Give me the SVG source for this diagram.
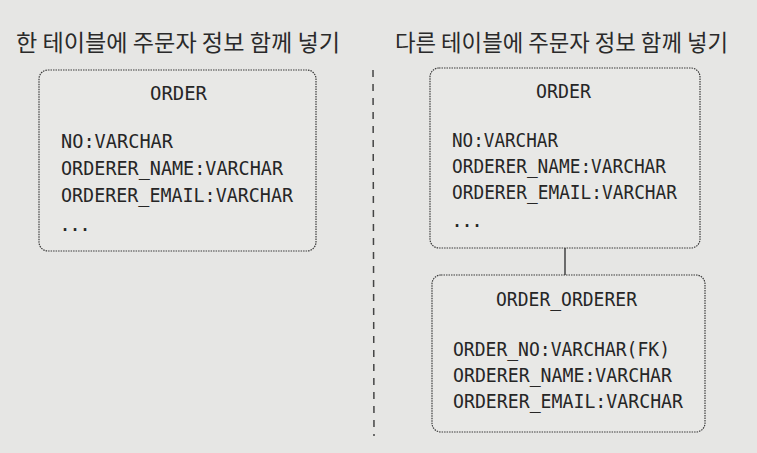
<svg xmlns="http://www.w3.org/2000/svg" width="757" height="453" viewBox="0 0 757 453">
<style>
.title{font-family:"Noto Sans CJK KR","Noto Sans",sans-serif;font-size:23px;fill:#2a2a2a}
.box{fill:#e8e8e6;stroke:#3a3a3a;stroke-width:1.2;stroke-dasharray:1.5 1}
.t{font-family:"DejaVu Sans Mono","Liberation Mono",monospace;font-size:20px;fill:#262626}
.h{text-anchor:middle}
.div{stroke:#444;stroke-width:1.5;stroke-dasharray:7 7}
.edge{stroke:#2a2a2a;stroke-width:1.3;fill:none}
</style>
<rect width="757" height="453" fill="#e6e6e4"/>
<text class="title" x="16" y="51" textLength="324" lengthAdjust="spacingAndGlyphs">한 테이블에 주문자 정보 함께 넣기</text>
<text class="title" x="395" y="51" textLength="333" lengthAdjust="spacingAndGlyphs">다른 테이블에 주문자 정보 함께 넣기</text>
<line class="div" x1="373" y1="70" x2="374" y2="436"/>
<g id="order-left">
<rect class="box" x="39" y="70" width="277" height="181" rx="9"/>
<text class="t" x="150" y="100" textLength="57" lengthAdjust="spacingAndGlyphs">ORDER</text>
<text class="t" x="61" y="148" textLength="112" lengthAdjust="spacingAndGlyphs">NO:VARCHAR</text>
<text class="t" x="61" y="175" textLength="222" lengthAdjust="spacingAndGlyphs">ORDERER_NAME:VARCHAR</text>
<text class="t" x="61" y="202" textLength="232" lengthAdjust="spacingAndGlyphs">ORDERER_EMAIL:VARCHAR</text>
<text class="t" x="59" y="231" textLength="32" lengthAdjust="spacing">...</text>
</g>
<g id="order-right">
<rect class="box" x="430" y="68" width="270" height="180" rx="9"/>
<text class="t" x="536" y="98" textLength="55" lengthAdjust="spacingAndGlyphs">ORDER</text>
<text class="t" x="452" y="147" textLength="106" lengthAdjust="spacingAndGlyphs">NO:VARCHAR</text>
<text class="t" x="452" y="173" textLength="214" lengthAdjust="spacingAndGlyphs">ORDERER_NAME:VARCHAR</text>
<text class="t" x="452" y="199" textLength="225" lengthAdjust="spacingAndGlyphs">ORDERER_EMAIL:VARCHAR</text>
<text class="t" x="451" y="227" textLength="32" lengthAdjust="spacing">...</text>
</g>
<g id="order-orderer">
<rect class="box" x="432" y="275" width="273" height="157" rx="9"/>
<text class="t" x="496" y="306" textLength="141" lengthAdjust="spacingAndGlyphs">ORDER_ORDERER</text>
<text class="t" x="453" y="356" textLength="217" lengthAdjust="spacingAndGlyphs">ORDER_NO:VARCHAR(FK)</text>
<text class="t" x="453" y="382" textLength="219" lengthAdjust="spacingAndGlyphs">ORDERER_NAME:VARCHAR</text>
<text class="t" x="453" y="408" textLength="230" lengthAdjust="spacingAndGlyphs">ORDERER_EMAIL:VARCHAR</text>
</g>
<g id="connectors">
<line class="edge" x1="565" y1="248" x2="565" y2="275"/>
</g>
</svg>
